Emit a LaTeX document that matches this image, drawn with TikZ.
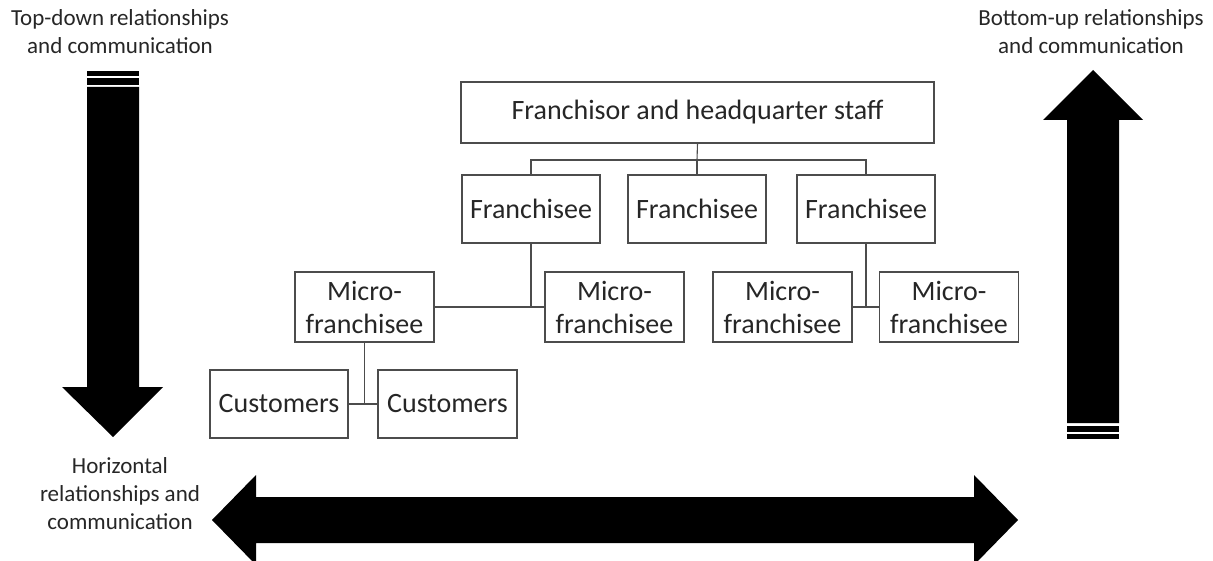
\documentclass[tikz,border=0pt]{standalone}
\usepackage{fontspec}
\setmainfont{Carlito}
\begin{document}
\begin{tikzpicture}[x=1pt,y=-1pt,
  box/.style={draw=black!70, line width=1.1pt, inner sep=0pt, align=center, text=black!85, font=\fontsize{28}{33}\selectfont},
  conn/.style={draw=black!70, line width=1.1pt},
  lab/.style={align=center, text=black!85, font=\fontsize{23}{28}\selectfont, inner sep=0pt},
  bigarrow/.style={fill=black}]
\useasboundingbox (0,0) rectangle (1213,561);
% labels
\node[lab] (tdl) at (120,32) {Top-down relationships\\and communication};
\node[lab] (bul) at (1091,32) {Bottom-up relationships\\and communication};
\node[lab] (hzl) at (120,494) {Horizontal\\relationships and\\communication};
% arrows
\fill[bigarrow] (87,87) -- (139,87) -- (139,387) -- (163,387) -- (113,437) -- (62,387) -- (87,387) -- cycle;
\fill[bigarrow] (87,71) rectangle (139,76);
\fill[bigarrow] (87,78) rectangle (139,85);
\fill[bigarrow] (1067,423) -- (1067,120) -- (1043,120) -- (1093,70) -- (1143,120) -- (1119,120) -- (1119,423) -- cycle;
\fill[bigarrow] (1067,426) rectangle (1119,432);
\fill[bigarrow] (1067,434) rectangle (1119,439);
\fill[bigarrow] (212,520) -- (256,475) -- (256,497) -- (974,497) -- (974,475) -- (1018,520) -- (974,565) -- (974,543) -- (256,543) -- (256,565) -- cycle;
% boxes
\node[box, minimum width=473pt, minimum height=61pt] (hq) at (697.5,112.5) {Franchisor and headquarter staff};
\node[box, minimum width=138pt, minimum height=68pt] (f1) at (531,209) {Franchisee};
\node[box, minimum width=138pt, minimum height=68pt] (f2) at (697,209) {Franchisee};
\node[box, minimum width=138pt, minimum height=68pt] (f3) at (866,209) {Franchisee};
\node[box, minimum width=139pt, minimum height=70pt] (m1) at (364.5,307) {Micro-\\franchisee};
\node[box, minimum width=139pt, minimum height=70pt] (m2) at (614.5,307) {Micro-\\franchisee};
\node[box, minimum width=139pt, minimum height=70pt] (m3) at (782.5,307) {Micro-\\franchisee};
\node[box, minimum width=139pt, minimum height=70pt] (m4) at (949,307) {Micro-\\franchisee};
\node[box, minimum width=138pt, minimum height=68pt] (c1) at (279,404) {Customers};
\node[box, minimum width=139pt, minimum height=68pt] (c2) at (447.5,404) {Customers};
% connectors
\coordinate (bus) at (697,160);
\draw[conn] (hq.south) -- (bus);
\draw[conn] (f1.north) |- (bus) -| (f3.north);
\draw[conn] (f2.north) -- (f2.north |- bus);
\draw[conn] (f1.south) -- (f1.south |- m1.east);
\draw[conn] (m1.east) -- (m2.west);
\draw[conn] (f3.south) -- (f3.south |- m3.east);
\draw[conn] (m3.east) -- (m4.west);
\draw[conn] (m1.south) -- (m1.south |- c1.east);
\draw[conn] (c1.east) -- (c2.west);
\end{tikzpicture}
\end{document}
